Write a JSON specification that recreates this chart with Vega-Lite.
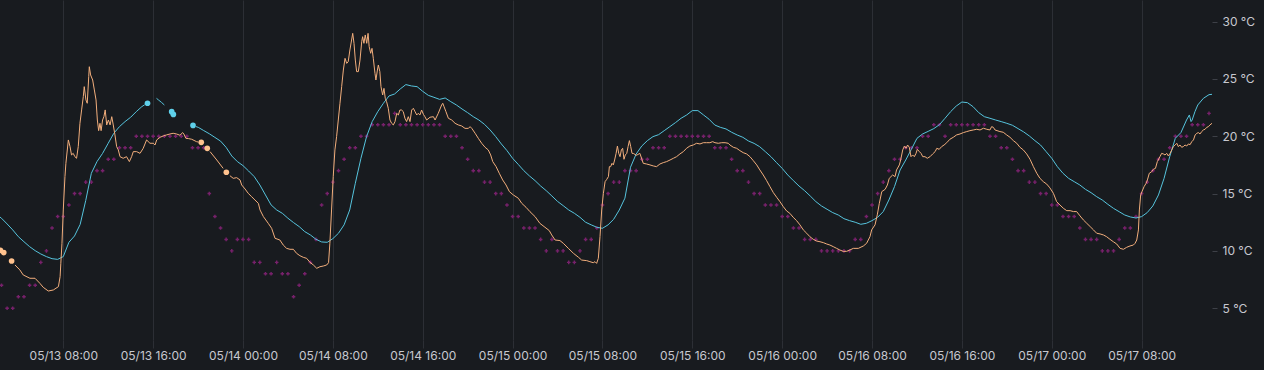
{
 "$schema": "https://vega.github.io/schema/vega-lite/v6.json",
 "width": 1212,
 "height": 340,
 "autosize": {"type": "none"},
 "padding": {"left": 0, "top": 0, "right": 52, "bottom": 30},
 "background": "#181b1f",
 "config": {"view": {"stroke": null}, "font": "Inter"},
 "datasets": {
  "outdoor": [
   {"t":"2024-05-13T02:30","v":7},{"t":"2024-05-13T03:00","v":5},{"t":"2024-05-13T03:30","v":5},{"t":"2024-05-13T04:00","v":6},{"t":"2024-05-13T04:30","v":6},{"t":"2024-05-13T05:00","v":7},{"t":"2024-05-13T05:30","v":7},{"t":"2024-05-13T06:00","v":9},{"t":"2024-05-13T06:30","v":10},{"t":"2024-05-13T07:00","v":12},{"t":"2024-05-13T07:30","v":13},{"t":"2024-05-13T08:00","v":13},{"t":"2024-05-13T08:30","v":14},{"t":"2024-05-13T09:00","v":15},{"t":"2024-05-13T09:30","v":15},{"t":"2024-05-13T10:00","v":16},{"t":"2024-05-13T10:30","v":16},{"t":"2024-05-13T11:00","v":17},{"t":"2024-05-13T11:30","v":17},{"t":"2024-05-13T12:00","v":18},{"t":"2024-05-13T12:30","v":18},{"t":"2024-05-13T13:00","v":19},{"t":"2024-05-13T13:30","v":19},{"t":"2024-05-13T14:00","v":19},{"t":"2024-05-13T14:30","v":20},{"t":"2024-05-13T15:00","v":20},{"t":"2024-05-13T15:30","v":20},{"t":"2024-05-13T16:00","v":20},{"t":"2024-05-13T16:30","v":20},{"t":"2024-05-13T17:00","v":20},{"t":"2024-05-13T17:30","v":20},{"t":"2024-05-13T18:00","v":20},{"t":"2024-05-13T18:30","v":20},{"t":"2024-05-13T19:00","v":20},{"t":"2024-05-13T19:30","v":19},{"t":"2024-05-13T20:00","v":19},{"t":"2024-05-13T20:30","v":19},{"t":"2024-05-13T21:00","v":15},{"t":"2024-05-13T21:30","v":13},{"t":"2024-05-13T22:00","v":12},{"t":"2024-05-13T22:30","v":11},{"t":"2024-05-13T23:00","v":10},{"t":"2024-05-13T23:30","v":11},
   {"t":"2024-05-14T00:00","v":11},{"t":"2024-05-14T00:30","v":11},{"t":"2024-05-14T01:00","v":9},{"t":"2024-05-14T01:30","v":9},{"t":"2024-05-14T02:00","v":8},{"t":"2024-05-14T02:30","v":8},{"t":"2024-05-14T03:00","v":9},{"t":"2024-05-14T03:30","v":8},{"t":"2024-05-14T04:00","v":8},{"t":"2024-05-14T04:30","v":6},{"t":"2024-05-14T05:00","v":7},{"t":"2024-05-14T05:30","v":8},{"t":"2024-05-14T06:00","v":9},{"t":"2024-05-14T06:30","v":11},{"t":"2024-05-14T07:00","v":14},{"t":"2024-05-14T07:30","v":15},{"t":"2024-05-14T08:00","v":16},{"t":"2024-05-14T08:30","v":17},{"t":"2024-05-14T09:00","v":18},{"t":"2024-05-14T09:30","v":19},{"t":"2024-05-14T10:00","v":19},{"t":"2024-05-14T10:30","v":20},{"t":"2024-05-14T11:00","v":20},{"t":"2024-05-14T11:30","v":21},{"t":"2024-05-14T12:00","v":21},{"t":"2024-05-14T12:30","v":21},{"t":"2024-05-14T13:00","v":21},{"t":"2024-05-14T13:30","v":22},{"t":"2024-05-14T14:00","v":21},{"t":"2024-05-14T14:30","v":21},{"t":"2024-05-14T15:00","v":21},{"t":"2024-05-14T15:30","v":21},{"t":"2024-05-14T16:00","v":21},{"t":"2024-05-14T16:30","v":21},{"t":"2024-05-14T17:00","v":21},{"t":"2024-05-14T17:30","v":21},{"t":"2024-05-14T18:00","v":20},{"t":"2024-05-14T18:30","v":20},{"t":"2024-05-14T19:00","v":20},{"t":"2024-05-14T19:30","v":19},{"t":"2024-05-14T20:00","v":18},{"t":"2024-05-14T20:30","v":17},{"t":"2024-05-14T21:00","v":17},{"t":"2024-05-14T21:30","v":16},{"t":"2024-05-14T22:00","v":16},{"t":"2024-05-14T22:30","v":15},{"t":"2024-05-14T23:00","v":15},{"t":"2024-05-14T23:30","v":14},
   {"t":"2024-05-15T00:00","v":13},{"t":"2024-05-15T00:30","v":13},{"t":"2024-05-15T01:00","v":12},{"t":"2024-05-15T01:30","v":12},{"t":"2024-05-15T02:00","v":12},{"t":"2024-05-15T02:30","v":11},{"t":"2024-05-15T03:00","v":10},{"t":"2024-05-15T03:30","v":11},{"t":"2024-05-15T04:00","v":10},{"t":"2024-05-15T04:30","v":10},{"t":"2024-05-15T05:00","v":9},{"t":"2024-05-15T05:30","v":9},{"t":"2024-05-15T06:00","v":10},{"t":"2024-05-15T06:30","v":11},{"t":"2024-05-15T07:00","v":11},{"t":"2024-05-15T07:30","v":12},{"t":"2024-05-15T08:00","v":14},{"t":"2024-05-15T08:30","v":15},{"t":"2024-05-15T09:00","v":16},{"t":"2024-05-15T09:30","v":16},{"t":"2024-05-15T10:00","v":17},{"t":"2024-05-15T10:30","v":17},{"t":"2024-05-15T11:00","v":17},{"t":"2024-05-15T11:30","v":18},{"t":"2024-05-15T12:00","v":18},{"t":"2024-05-15T12:30","v":19},{"t":"2024-05-15T13:00","v":19},{"t":"2024-05-15T13:30","v":19},{"t":"2024-05-15T14:00","v":20},{"t":"2024-05-15T14:30","v":20},{"t":"2024-05-15T15:00","v":20},{"t":"2024-05-15T15:30","v":20},{"t":"2024-05-15T16:00","v":20},{"t":"2024-05-15T16:30","v":20},{"t":"2024-05-15T17:00","v":20},{"t":"2024-05-15T17:30","v":20},{"t":"2024-05-15T18:00","v":19},{"t":"2024-05-15T18:30","v":19},{"t":"2024-05-15T19:00","v":19},{"t":"2024-05-15T19:30","v":18},{"t":"2024-05-15T20:00","v":17},{"t":"2024-05-15T20:30","v":17},{"t":"2024-05-15T21:00","v":16},{"t":"2024-05-15T21:30","v":15},{"t":"2024-05-15T22:00","v":15},{"t":"2024-05-15T22:30","v":14},{"t":"2024-05-15T23:00","v":14},{"t":"2024-05-15T23:30","v":14},
   {"t":"2024-05-16T00:00","v":13},{"t":"2024-05-16T00:30","v":13},{"t":"2024-05-16T01:00","v":12},{"t":"2024-05-16T01:30","v":12},{"t":"2024-05-16T02:00","v":11},{"t":"2024-05-16T02:30","v":11},{"t":"2024-05-16T03:00","v":11},{"t":"2024-05-16T03:30","v":10},{"t":"2024-05-16T04:00","v":10},{"t":"2024-05-16T04:30","v":10},{"t":"2024-05-16T05:00","v":10},{"t":"2024-05-16T05:30","v":10},{"t":"2024-05-16T06:00","v":10},{"t":"2024-05-16T06:30","v":11},{"t":"2024-05-16T07:00","v":11},{"t":"2024-05-16T07:30","v":13},{"t":"2024-05-16T08:00","v":14},{"t":"2024-05-16T08:30","v":15},{"t":"2024-05-16T09:00","v":16},{"t":"2024-05-16T09:30","v":17},{"t":"2024-05-16T10:00","v":18},{"t":"2024-05-16T10:30","v":18},{"t":"2024-05-16T11:00","v":19},{"t":"2024-05-16T11:30","v":19},{"t":"2024-05-16T12:00","v":19},{"t":"2024-05-16T12:30","v":20},{"t":"2024-05-16T13:00","v":20},{"t":"2024-05-16T13:30","v":21},{"t":"2024-05-16T14:00","v":21},{"t":"2024-05-16T14:30","v":20},{"t":"2024-05-16T15:00","v":21},{"t":"2024-05-16T15:30","v":21},{"t":"2024-05-16T16:00","v":21},{"t":"2024-05-16T16:30","v":21},{"t":"2024-05-16T17:00","v":21},{"t":"2024-05-16T17:30","v":21},{"t":"2024-05-16T18:00","v":21},{"t":"2024-05-16T18:30","v":20},{"t":"2024-05-16T19:00","v":20},{"t":"2024-05-16T19:30","v":19},{"t":"2024-05-16T20:00","v":19},{"t":"2024-05-16T20:30","v":18},{"t":"2024-05-16T21:00","v":17},{"t":"2024-05-16T21:30","v":17},{"t":"2024-05-16T22:00","v":16},{"t":"2024-05-16T22:30","v":16},{"t":"2024-05-16T23:00","v":15},{"t":"2024-05-16T23:30","v":15},
   {"t":"2024-05-17T00:00","v":14},{"t":"2024-05-17T00:30","v":14},{"t":"2024-05-17T01:00","v":13},{"t":"2024-05-17T01:30","v":13},{"t":"2024-05-17T02:00","v":13},{"t":"2024-05-17T02:30","v":12},{"t":"2024-05-17T03:00","v":11},{"t":"2024-05-17T03:30","v":11},{"t":"2024-05-17T04:00","v":11},{"t":"2024-05-17T04:30","v":10},{"t":"2024-05-17T05:00","v":10},{"t":"2024-05-17T05:30","v":10},{"t":"2024-05-17T06:00","v":11},{"t":"2024-05-17T06:30","v":12},{"t":"2024-05-17T07:00","v":12},{"t":"2024-05-17T07:30","v":13},{"t":"2024-05-17T08:00","v":15},{"t":"2024-05-17T08:30","v":16},{"t":"2024-05-17T09:00","v":17},{"t":"2024-05-17T09:30","v":18},{"t":"2024-05-17T10:00","v":18},{"t":"2024-05-17T10:30","v":19},{"t":"2024-05-17T11:00","v":20},{"t":"2024-05-17T11:30","v":20},{"t":"2024-05-17T12:00","v":20},{"t":"2024-05-17T12:30","v":21},{"t":"2024-05-17T13:00","v":21},{"t":"2024-05-17T13:30","v":21},{"t":"2024-05-17T14:00","v":22}
  ],
  "cyan": [
   {"t":"2024-05-13T02:22","v":12.95},{"t":"2024-05-13T02:30","v":12.85},{"t":"2024-05-13T03:00","v":12.35},{"t":"2024-05-13T03:30","v":11.83},{"t":"2024-05-13T04:00","v":11.24},{"t":"2024-05-13T04:30","v":10.8},{"t":"2024-05-13T05:00","v":10.37},{"t":"2024-05-13T05:30","v":10.02},{"t":"2024-05-13T06:00","v":9.73},{"t":"2024-05-13T06:30","v":9.5},{"t":"2024-05-13T07:00","v":9.32},{"t":"2024-05-13T07:30","v":9.26},{"t":"2024-05-13T08:00","v":9.5},{"t":"2024-05-13T08:30","v":10.75},{"t":"2024-05-13T09:00","v":11.3},{"t":"2024-05-13T09:30","v":12.3},{"t":"2024-05-13T10:00","v":14.4},{"t":"2024-05-13T10:30","v":16.77},{"t":"2024-05-13T11:00","v":17.79},{"t":"2024-05-13T11:30","v":18.51},{"t":"2024-05-13T12:00","v":19.39},{"t":"2024-05-13T12:30","v":20.26},{"t":"2024-05-13T13:00","v":20.84},{"t":"2024-05-13T13:30","v":21.28},{"t":"2024-05-13T14:00","v":21.66},{"t":"2024-05-13T14:30","v":22.15},{"t":"2024-05-13T15:00","v":22.59},{"t":"2024-05-13T15:15","v":22.75},{"t":"2024-05-13T15:23","v":null},{"t":"2024-05-13T15:30","v":22.88},{"t":"2024-05-13T15:54","v":null},{"t":"2024-05-13T16:18","v":23.31},{"t":"2024-05-13T16:30","v":23.15},{"t":"2024-05-13T16:45","v":22.95},{"t":"2024-05-13T17:00","v":22.73},{"t":"2024-05-13T17:18","v":null},{"t":"2024-05-13T17:39","v":22.15},{"t":"2024-05-13T17:43","v":null},{"t":"2024-05-13T17:48","v":21.91},{"t":"2024-05-13T18:30","v":null},{"t":"2024-05-13T19:33","v":20.95},{"t":"2024-05-13T19:39","v":null},{"t":"2024-05-13T19:48","v":20.85},{"t":"2024-05-13T20:01","v":20.78},{"t":"2024-05-13T20:30","v":20.5},{"t":"2024-05-13T21:00","v":20.22},{"t":"2024-05-13T21:30","v":19.9},{"t":"2024-05-13T22:00","v":19.58},{"t":"2024-05-13T22:30","v":19.03},{"t":"2024-05-13T23:00","v":18.28},{"t":"2024-05-13T23:30","v":17.79},
   {"t":"2024-05-14T00:00","v":17.44},{"t":"2024-05-14T00:30","v":16.97},{"t":"2024-05-14T01:00","v":16.48},{"t":"2024-05-14T01:30","v":15.75},{"t":"2024-05-14T02:00","v":14.88},{"t":"2024-05-14T02:30","v":14.01},{"t":"2024-05-14T03:00","v":13.57},{"t":"2024-05-14T03:30","v":13.28},{"t":"2024-05-14T04:00","v":12.85},{"t":"2024-05-14T04:30","v":12.47},{"t":"2024-05-14T05:00","v":12.12},{"t":"2024-05-14T05:30","v":11.68},{"t":"2024-05-14T06:00","v":11.39},{"t":"2024-05-14T06:30","v":11.01},{"t":"2024-05-14T07:00","v":10.78},{"t":"2024-05-14T07:30","v":10.75},{"t":"2024-05-14T08:00","v":11.07},{"t":"2024-05-14T08:30","v":11.54},{"t":"2024-05-14T09:00","v":12.27},{"t":"2024-05-14T09:30","v":13.57},{"t":"2024-05-14T10:00","v":15.9},{"t":"2024-05-14T10:30","v":18.08},{"t":"2024-05-14T11:00","v":19.97},{"t":"2024-05-14T11:30","v":21.28},{"t":"2024-05-14T12:00","v":22.15},{"t":"2024-05-14T12:30","v":22.88},{"t":"2024-05-14T13:00","v":23.52},{"t":"2024-05-14T13:30","v":23.69},{"t":"2024-05-14T14:00","v":24.13},{"t":"2024-05-14T14:30","v":24.51},{"t":"2024-05-14T15:00","v":24.39},{"t":"2024-05-14T15:30","v":24.33},{"t":"2024-05-14T16:00","v":23.92},{"t":"2024-05-14T16:30","v":23.57},{"t":"2024-05-14T17:00","v":23.4},{"t":"2024-05-14T17:30","v":23.22},{"t":"2024-05-14T18:00","v":23.34},{"t":"2024-05-14T18:30","v":23.02},{"t":"2024-05-14T19:00","v":22.73},{"t":"2024-05-14T19:30","v":22.38},{"t":"2024-05-14T20:00","v":22.06},{"t":"2024-05-14T20:30","v":21.71},{"t":"2024-05-14T21:00","v":21.42},{"t":"2024-05-14T21:30","v":21.04},{"t":"2024-05-14T22:00","v":20.55},{"t":"2024-05-14T22:30","v":19.97},{"t":"2024-05-14T23:00","v":19.33},{"t":"2024-05-14T23:30","v":18.75},
   {"t":"2024-05-15T00:00","v":18.08},{"t":"2024-05-15T00:30","v":17.55},{"t":"2024-05-15T01:00","v":17.0},{"t":"2024-05-15T01:30","v":16.54},{"t":"2024-05-15T02:00","v":16.13},{"t":"2024-05-15T02:30","v":15.66},{"t":"2024-05-15T03:00","v":15.25},{"t":"2024-05-15T03:30","v":14.79},{"t":"2024-05-15T04:00","v":14.32},{"t":"2024-05-15T04:30","v":13.95},{"t":"2024-05-15T05:00","v":13.57},{"t":"2024-05-15T05:30","v":13.28},{"t":"2024-05-15T06:00","v":12.93},{"t":"2024-05-15T06:30","v":12.5},{"t":"2024-05-15T07:00","v":12.27},{"t":"2024-05-15T07:30","v":12.06},{"t":"2024-05-15T08:00","v":11.97},{"t":"2024-05-15T08:30","v":12.27},{"t":"2024-05-15T09:00","v":12.76},{"t":"2024-05-15T09:30","v":13.57},{"t":"2024-05-15T10:00","v":14.6},{"t":"2024-05-15T10:30","v":17.3},{"t":"2024-05-15T11:00","v":18.45},{"t":"2024-05-15T11:30","v":19.15},{"t":"2024-05-15T12:00","v":19.62},{"t":"2024-05-15T12:30","v":19.97},{"t":"2024-05-15T13:00","v":20.14},{"t":"2024-05-15T13:30","v":20.49},{"t":"2024-05-15T14:00","v":20.84},{"t":"2024-05-15T14:30","v":21.19},{"t":"2024-05-15T15:00","v":21.57},{"t":"2024-05-15T15:30","v":21.86},{"t":"2024-05-15T16:00","v":22.24},{"t":"2024-05-15T16:30","v":22.24},{"t":"2024-05-15T17:00","v":21.86},{"t":"2024-05-15T17:30","v":21.48},{"t":"2024-05-15T18:00","v":20.98},{"t":"2024-05-15T18:30","v":20.78},{"t":"2024-05-15T19:00","v":20.64},{"t":"2024-05-15T19:30","v":20.35},{"t":"2024-05-15T20:00","v":20.11},{"t":"2024-05-15T20:30","v":19.91},{"t":"2024-05-15T21:00","v":19.59},{"t":"2024-05-15T21:30","v":19.38},{"t":"2024-05-15T22:00","v":19.09},{"t":"2024-05-15T22:30","v":18.66},{"t":"2024-05-15T23:00","v":18.22},{"t":"2024-05-15T23:30","v":17.7},
   {"t":"2024-05-16T00:00","v":17.2},{"t":"2024-05-16T00:30","v":16.62},{"t":"2024-05-16T01:00","v":16.13},{"t":"2024-05-16T01:30","v":15.66},{"t":"2024-05-16T02:00","v":15.25},{"t":"2024-05-16T02:30","v":14.79},{"t":"2024-05-16T03:00","v":14.3},{"t":"2024-05-16T03:30","v":13.92},{"t":"2024-05-16T04:00","v":13.63},{"t":"2024-05-16T04:30","v":13.34},{"t":"2024-05-16T05:00","v":13.13},{"t":"2024-05-16T05:30","v":12.81},{"t":"2024-05-16T06:00","v":12.64},{"t":"2024-05-16T06:30","v":12.5},{"t":"2024-05-16T07:00","v":12.32},{"t":"2024-05-16T07:30","v":12.41},{"t":"2024-05-16T08:00","v":12.64},{"t":"2024-05-16T08:30","v":12.93},{"t":"2024-05-16T09:00","v":13.43},{"t":"2024-05-16T09:30","v":14.44},{"t":"2024-05-16T10:00","v":15.61},{"t":"2024-05-16T10:30","v":17.06},{"t":"2024-05-16T11:00","v":17.93},{"t":"2024-05-16T11:30","v":18.86},{"t":"2024-05-16T12:00","v":19.82},{"t":"2024-05-16T12:30","v":20.2},{"t":"2024-05-16T13:00","v":20.43},{"t":"2024-05-16T13:30","v":20.67},{"t":"2024-05-16T14:00","v":21.01},{"t":"2024-05-16T14:30","v":21.57},{"t":"2024-05-16T15:00","v":22.15},{"t":"2024-05-16T15:30","v":22.64},{"t":"2024-05-16T16:00","v":22.99},{"t":"2024-05-16T16:30","v":22.93},{"t":"2024-05-16T17:00","v":22.58},{"t":"2024-05-16T17:30","v":22.06},{"t":"2024-05-16T18:00","v":21.71},{"t":"2024-05-16T18:30","v":21.57},{"t":"2024-05-16T19:00","v":21.42},{"t":"2024-05-16T19:30","v":21.28},{"t":"2024-05-16T20:00","v":21.13},{"t":"2024-05-16T20:30","v":20.96},{"t":"2024-05-16T21:00","v":20.67},{"t":"2024-05-16T21:30","v":20.38},{"t":"2024-05-16T22:00","v":20.03},{"t":"2024-05-16T22:30","v":19.62},{"t":"2024-05-16T23:00","v":19.24},{"t":"2024-05-16T23:30","v":18.66},
   {"t":"2024-05-17T00:00","v":18.08},{"t":"2024-05-17T00:30","v":17.35},{"t":"2024-05-17T01:00","v":16.77},{"t":"2024-05-17T01:30","v":16.33},{"t":"2024-05-17T02:00","v":16.04},{"t":"2024-05-17T02:30","v":15.75},{"t":"2024-05-17T03:00","v":15.37},{"t":"2024-05-17T03:30","v":15.08},{"t":"2024-05-17T04:00","v":14.73},{"t":"2024-05-17T04:30","v":14.44},{"t":"2024-05-17T05:00","v":14.06},{"t":"2024-05-17T05:30","v":13.71},{"t":"2024-05-17T06:00","v":13.42},{"t":"2024-05-17T06:30","v":13.13},{"t":"2024-05-17T07:00","v":12.96},{"t":"2024-05-17T07:30","v":12.87},{"t":"2024-05-17T08:00","v":12.99},{"t":"2024-05-17T08:30","v":13.34},{"t":"2024-05-17T09:00","v":13.92},{"t":"2024-05-17T09:30","v":14.88},{"t":"2024-05-17T10:00","v":16.33},{"t":"2024-05-17T10:30","v":18.22},{"t":"2024-05-17T11:00","v":19.82},{"t":"2024-05-17T11:30","v":20.32},{"t":"2024-05-17T12:00","v":21.42},{"t":"2024-05-17T12:15","v":21.86},{"t":"2024-05-17T12:24","v":21.28},{"t":"2024-05-17T12:30","v":21.42},{"t":"2024-05-17T12:45","v":22.15},{"t":"2024-05-17T13:00","v":22.73},{"t":"2024-05-17T13:30","v":23.31},{"t":"2024-05-17T14:00","v":23.63},{"t":"2024-05-17T14:16","v":23.66}
  ],
  "orange": [
   {"t":"2024-05-13T02:24","v":10.05},{"t":"2024-05-13T02:33","v":null},{"t":"2024-05-13T02:42","v":9.85},{"t":"2024-05-13T03:03","v":null},{"t":"2024-05-13T03:24","v":9.12},{"t":"2024-05-13T03:33","v":null},{"t":"2024-05-13T03:42","v":8.77},{"t":"2024-05-13T04:08","v":8.34},{"t":"2024-05-13T04:26","v":7.9},{"t":"2024-05-13T05:02","v":7.61},{"t":"2024-05-13T05:29","v":7.61},{"t":"2024-05-13T05:55","v":7.17},{"t":"2024-05-13T06:13","v":6.82},{"t":"2024-05-13T06:40","v":6.5},{"t":"2024-05-13T07:07","v":6.59},{"t":"2024-05-13T07:34","v":6.88},{"t":"2024-05-13T07:43","v":7.75},{"t":"2024-05-13T07:47","v":8.92},{"t":"2024-05-13T07:53","v":10.66},{"t":"2024-05-13T08:00","v":13.57},{"t":"2024-05-13T08:09","v":16.48},{"t":"2024-05-13T08:14","v":17.64},{"t":"2024-05-13T08:27","v":19.68},{"t":"2024-05-13T08:36","v":19.1},{"t":"2024-05-13T08:44","v":18.37},{"t":"2024-05-13T08:53","v":18.51},{"t":"2024-05-13T09:02","v":18.22},{"t":"2024-05-13T09:11","v":18.08},{"t":"2024-05-13T09:20","v":19.1},{"t":"2024-05-13T09:29","v":21.13},{"t":"2024-05-13T09:38","v":22.3},{"t":"2024-05-13T09:47","v":23.46},{"t":"2024-05-13T09:52","v":24.33},{"t":"2024-05-13T10:01","v":23.17},{"t":"2024-05-13T10:08","v":22.88},{"t":"2024-05-13T10:16","v":25.2},{"t":"2024-05-13T10:19","v":26.07},{"t":"2024-05-13T10:26","v":25.35},{"t":"2024-05-13T10:37","v":24.91},{"t":"2024-05-13T10:46","v":24.04},{"t":"2024-05-13T10:55","v":23.17},{"t":"2024-05-13T11:02","v":21.42},{"t":"2024-05-13T11:09","v":20.49},{"t":"2024-05-13T11:16","v":21.13},{"t":"2024-05-13T11:22","v":20.49},{"t":"2024-05-13T11:30","v":21.42},{"t":"2024-05-13T11:37","v":21.71},{"t":"2024-05-13T11:44","v":22.3},{"t":"2024-05-13T11:52","v":20.99},{"t":"2024-05-13T12:01","v":21.42},{"t":"2024-05-13T12:10","v":20.99},{"t":"2024-05-13T12:19","v":21.71},{"t":"2024-05-13T12:27","v":20.99},{"t":"2024-05-13T12:36","v":20.12},{"t":"2024-05-13T12:45","v":19.1},{"t":"2024-05-13T12:54","v":18.81},{"t":"2024-05-13T13:03","v":18.22},{"t":"2024-05-13T13:20","v":18.08},{"t":"2024-05-13T13:38","v":18.22},{"t":"2024-05-13T13:53","v":17.79},{"t":"2024-05-13T14:05","v":18.22},{"t":"2024-05-13T14:14","v":18.66},{"t":"2024-05-13T14:32","v":18.66},{"t":"2024-05-13T14:50","v":18.51},{"t":"2024-05-13T15:07","v":18.95},{"t":"2024-05-13T15:25","v":19.68},{"t":"2024-05-13T15:43","v":19.39},{"t":"2024-05-13T16:01","v":19.39},{"t":"2024-05-13T16:10","v":19.24},{"t":"2024-05-13T16:19","v":19.68},{"t":"2024-05-13T16:37","v":19.91},{"t":"2024-05-13T16:54","v":20.03},{"t":"2024-05-13T17:12","v":20.12},{"t":"2024-05-13T17:30","v":20.2},{"t":"2024-05-13T17:47","v":20.26},{"t":"2024-05-13T18:05","v":20.2},{"t":"2024-05-13T18:23","v":20.09},{"t":"2024-05-13T18:38","v":20.32},{"t":"2024-05-13T18:44","v":20.2},{"t":"2024-05-13T18:55","v":19.82},{"t":"2024-05-13T19:08","v":19.8},{"t":"2024-05-13T19:26","v":19.74},{"t":"2024-05-13T19:52","v":19.53},{"t":"2024-05-13T20:00","v":19.5},{"t":"2024-05-13T20:09","v":null},{"t":"2024-05-13T20:17","v":19.47},{"t":"2024-05-13T20:33","v":null},{"t":"2024-05-13T20:49","v":18.95},{"t":"2024-05-13T20:57","v":null},{"t":"2024-05-13T21:04","v":18.66},{"t":"2024-05-13T21:40","v":17.93},{"t":"2024-05-13T22:14","v":17.2},{"t":"2024-05-13T22:23","v":null},{"t":"2024-05-13T22:31","v":16.86},{"t":"2024-05-13T22:39","v":null},{"t":"2024-05-13T22:50","v":16.56},{"t":"2024-05-13T23:08","v":16.33},{"t":"2024-05-13T23:26","v":16.39},{"t":"2024-05-13T23:44","v":16.19},{"t":"2024-05-13T23:53","v":15.75},
   {"t":"2024-05-14T00:11","v":15.4},{"t":"2024-05-14T00:28","v":15.02},{"t":"2024-05-14T00:46","v":14.73},{"t":"2024-05-14T01:04","v":14.44},{"t":"2024-05-14T01:22","v":14.15},{"t":"2024-05-14T01:31","v":13.57},{"t":"2024-05-14T01:49","v":12.99},{"t":"2024-05-14T02:15","v":12.4},{"t":"2024-05-14T02:33","v":11.97},{"t":"2024-05-14T02:51","v":11.1},{"t":"2024-05-14T03:17","v":10.95},{"t":"2024-05-14T03:35","v":10.51},{"t":"2024-05-14T03:53","v":10.22},{"t":"2024-05-14T04:11","v":10.14},{"t":"2024-05-14T04:29","v":10.14},{"t":"2024-05-14T04:46","v":9.79},{"t":"2024-05-14T05:04","v":9.58},{"t":"2024-05-14T05:22","v":9.44},{"t":"2024-05-14T05:40","v":9.35},{"t":"2024-05-14T05:58","v":9.0},{"t":"2024-05-14T06:16","v":8.77},{"t":"2024-05-14T06:34","v":8.48},{"t":"2024-05-14T06:51","v":8.62},{"t":"2024-05-14T07:09","v":8.68},{"t":"2024-05-14T07:27","v":8.77},{"t":"2024-05-14T07:37","v":8.97},{"t":"2024-05-14T07:44","v":10.66},{"t":"2024-05-14T07:53","v":13.57},{"t":"2024-05-14T08:02","v":16.48},{"t":"2024-05-14T08:11","v":18.81},{"t":"2024-05-14T08:20","v":19.97},{"t":"2024-05-14T08:29","v":21.42},{"t":"2024-05-14T08:38","v":22.88},{"t":"2024-05-14T08:47","v":24.33},{"t":"2024-05-14T08:56","v":25.78},{"t":"2024-05-14T09:05","v":26.8},{"t":"2024-05-14T09:14","v":26.36},{"t":"2024-05-14T09:22","v":26.51},{"t":"2024-05-14T09:31","v":27.53},{"t":"2024-05-14T09:40","v":28.4},{"t":"2024-05-14T09:46","v":28.98},{"t":"2024-05-14T09:53","v":28.11},{"t":"2024-05-14T10:00","v":26.65},{"t":"2024-05-14T10:07","v":25.64},{"t":"2024-05-14T10:16","v":25.64},{"t":"2024-05-14T10:25","v":26.65},{"t":"2024-05-14T10:34","v":28.25},{"t":"2024-05-14T10:39","v":28.69},{"t":"2024-05-14T10:46","v":28.11},{"t":"2024-05-14T10:53","v":28.84},{"t":"2024-05-14T11:01","v":28.11},{"t":"2024-05-14T11:08","v":28.98},{"t":"2024-05-14T11:14","v":27.82},{"t":"2024-05-14T11:22","v":27.24},{"t":"2024-05-14T11:29","v":27.67},{"t":"2024-05-14T11:36","v":26.8},{"t":"2024-05-14T11:45","v":25.49},{"t":"2024-05-14T11:50","v":24.91},{"t":"2024-05-14T11:58","v":25.78},{"t":"2024-05-14T12:03","v":26.22},{"t":"2024-05-14T12:11","v":25.64},{"t":"2024-05-14T12:17","v":24.33},{"t":"2024-05-14T12:26","v":23.6},{"t":"2024-05-14T12:33","v":24.18},{"t":"2024-05-14T12:40","v":23.31},{"t":"2024-05-14T12:47","v":23.02},{"t":"2024-05-14T12:56","v":22.44},{"t":"2024-05-14T13:05","v":21.42},{"t":"2024-05-14T13:14","v":21.13},{"t":"2024-05-14T13:23","v":20.99},{"t":"2024-05-14T13:32","v":21.28},{"t":"2024-05-14T13:41","v":22.0},{"t":"2024-05-14T13:50","v":21.86},{"t":"2024-05-14T13:58","v":22.29},{"t":"2024-05-14T14:07","v":22.29},{"t":"2024-05-14T14:16","v":22.15},{"t":"2024-05-14T14:25","v":21.57},{"t":"2024-05-14T14:34","v":21.28},{"t":"2024-05-14T14:43","v":21.71},{"t":"2024-05-14T14:52","v":21.28},{"t":"2024-05-14T15:01","v":22.29},{"t":"2024-05-14T15:10","v":22.44},{"t":"2024-05-14T15:19","v":22.15},{"t":"2024-05-14T15:28","v":21.86},{"t":"2024-05-14T15:36","v":22.0},{"t":"2024-05-14T15:45","v":21.86},{"t":"2024-05-14T15:54","v":22.29},{"t":"2024-05-14T16:04","v":21.9},{"t":"2024-05-14T16:12","v":21.7},{"t":"2024-05-14T16:21","v":21.42},{"t":"2024-05-14T16:39","v":21.66},{"t":"2024-05-14T16:57","v":21.71},{"t":"2024-05-14T17:06","v":21.42},{"t":"2024-05-14T17:23","v":22.0},{"t":"2024-05-14T17:41","v":22.73},{"t":"2024-05-14T17:47","v":22.88},{"t":"2024-05-14T17:54","v":22.58},{"t":"2024-05-14T18:04","v":22.15},{"t":"2024-05-14T18:17","v":21.57},{"t":"2024-05-14T18:35","v":21.42},{"t":"2024-05-14T18:53","v":21.13},{"t":"2024-05-14T19:10","v":20.99},{"t":"2024-05-14T19:28","v":20.9},{"t":"2024-05-14T19:46","v":20.69},{"t":"2024-05-14T20:04","v":20.69},{"t":"2024-05-14T20:13","v":20.84},{"t":"2024-05-14T20:22","v":20.69},{"t":"2024-05-14T20:40","v":20.26},{"t":"2024-05-14T20:57","v":19.82},{"t":"2024-05-14T21:15","v":19.39},{"t":"2024-05-14T21:33","v":19.04},{"t":"2024-05-14T21:50","v":18.81},{"t":"2024-05-14T22:03","v":18.37},{"t":"2024-05-14T22:14","v":17.79},{"t":"2024-05-14T22:32","v":17.35},{"t":"2024-05-14T22:49","v":16.77},{"t":"2024-05-14T23:07","v":16.19},{"t":"2024-05-14T23:25","v":15.75},{"t":"2024-05-14T23:43","v":15.17},
   {"t":"2024-05-15T00:04","v":14.88},{"t":"2024-05-15T00:31","v":14.59},{"t":"2024-05-15T00:49","v":14.15},{"t":"2024-05-15T01:12","v":13.8},{"t":"2024-05-15T01:33","v":13.42},{"t":"2024-05-15T02:00","v":12.99},{"t":"2024-05-15T02:26","v":12.4},{"t":"2024-05-15T02:53","v":12.06},{"t":"2024-05-15T03:16","v":11.77},{"t":"2024-05-15T03:29","v":11.39},{"t":"2024-05-15T03:47","v":10.95},{"t":"2024-05-15T04:13","v":10.9},{"t":"2024-05-15T04:31","v":10.66},{"t":"2024-05-15T04:58","v":10.22},{"t":"2024-05-15T05:25","v":9.79},{"t":"2024-05-15T05:52","v":9.44},{"t":"2024-05-15T06:09","v":9.2},{"t":"2024-05-15T06:36","v":9.15},{"t":"2024-05-15T06:53","v":9.06},{"t":"2024-05-15T07:11","v":8.97},{"t":"2024-05-15T07:20","v":9.06},{"t":"2024-05-15T07:29","v":8.91},{"t":"2024-05-15T07:38","v":9.35},{"t":"2024-05-15T07:47","v":11.24},{"t":"2024-05-15T07:56","v":13.57},{"t":"2024-05-15T08:05","v":15.02},{"t":"2024-05-15T08:14","v":16.04},{"t":"2024-05-15T08:23","v":16.24},{"t":"2024-05-15T08:32","v":16.48},{"t":"2024-05-15T08:37","v":17.35},{"t":"2024-05-15T08:44","v":17.35},{"t":"2024-05-15T08:51","v":17.64},{"t":"2024-05-15T08:58","v":17.5},{"t":"2024-05-15T09:05","v":17.93},{"t":"2024-05-15T09:13","v":18.51},{"t":"2024-05-15T09:20","v":19.15},{"t":"2024-05-15T09:27","v":18.51},{"t":"2024-05-15T09:34","v":18.22},{"t":"2024-05-15T09:41","v":18.81},{"t":"2024-05-15T09:48","v":18.95},{"t":"2024-05-15T09:55","v":17.99},{"t":"2024-05-15T10:02","v":18.37},{"t":"2024-05-15T10:10","v":18.51},{"t":"2024-05-15T10:17","v":19.1},{"t":"2024-05-15T10:24","v":19.62},{"t":"2024-05-15T10:31","v":19.1},{"t":"2024-05-15T10:38","v":18.51},{"t":"2024-05-15T10:45","v":18.5},{"t":"2024-05-15T11:02","v":18.34},{"t":"2024-05-15T11:20","v":18.51},{"t":"2024-05-15T11:38","v":17.64},{"t":"2024-05-15T11:56","v":17.58},{"t":"2024-05-15T12:14","v":17.5},{"t":"2024-05-15T12:32","v":17.41},{"t":"2024-05-15T12:49","v":17.35},{"t":"2024-05-15T13:07","v":17.58},{"t":"2024-05-15T13:25","v":17.7},{"t":"2024-05-15T13:43","v":17.79},{"t":"2024-05-15T14:01","v":17.93},{"t":"2024-05-15T14:19","v":18.08},{"t":"2024-05-15T14:36","v":18.22},{"t":"2024-05-15T14:54","v":18.46},{"t":"2024-05-15T15:12","v":18.66},{"t":"2024-05-15T15:29","v":18.95},{"t":"2024-05-15T15:47","v":19.15},{"t":"2024-05-15T16:05","v":19.24},{"t":"2024-05-15T16:23","v":19.39},{"t":"2024-05-15T16:41","v":19.33},{"t":"2024-05-15T16:59","v":19.44},{"t":"2024-05-15T17:16","v":19.44},{"t":"2024-05-15T17:34","v":19.44},{"t":"2024-05-15T17:49","v":19.53},{"t":"2024-05-15T18:01","v":19.44},{"t":"2024-05-15T18:19","v":19.39},{"t":"2024-05-15T18:37","v":19.44},{"t":"2024-05-15T18:55","v":19.44},{"t":"2024-05-15T19:12","v":19.39},{"t":"2024-05-15T19:21","v":19.24},{"t":"2024-05-15T19:39","v":19.04},{"t":"2024-05-15T19:57","v":18.95},{"t":"2024-05-15T20:14","v":18.75},{"t":"2024-05-15T20:32","v":18.57},{"t":"2024-05-15T20:50","v":18.46},{"t":"2024-05-15T21:08","v":18.22},{"t":"2024-05-15T21:26","v":17.87},{"t":"2024-05-15T21:44","v":17.5},{"t":"2024-05-15T22:01","v":17.06},{"t":"2024-05-15T22:19","v":16.62},{"t":"2024-05-15T22:37","v":16.13},{"t":"2024-05-15T22:55","v":15.6},{"t":"2024-05-15T23:13","v":15.08},{"t":"2024-05-15T23:31","v":14.67},{"t":"2024-05-15T23:48","v":14.3},
   {"t":"2024-05-16T00:06","v":13.86},{"t":"2024-05-16T00:24","v":13.48},{"t":"2024-05-16T00:41","v":13.28},{"t":"2024-05-16T00:59","v":12.93},{"t":"2024-05-16T01:17","v":12.64},{"t":"2024-05-16T01:35","v":12.27},{"t":"2024-05-16T01:53","v":11.83},{"t":"2024-05-16T02:11","v":11.54},{"t":"2024-05-16T02:28","v":11.24},{"t":"2024-05-16T02:46","v":11.01},{"t":"2024-05-16T03:04","v":10.86},{"t":"2024-05-16T03:22","v":10.8},{"t":"2024-05-16T03:40","v":10.72},{"t":"2024-05-16T03:58","v":10.6},{"t":"2024-05-16T04:15","v":10.51},{"t":"2024-05-16T04:33","v":10.37},{"t":"2024-05-16T04:51","v":10.22},{"t":"2024-05-16T05:08","v":10.08},{"t":"2024-05-16T05:26","v":9.96},{"t":"2024-05-16T05:44","v":9.96},{"t":"2024-05-16T06:02","v":10.08},{"t":"2024-05-16T06:20","v":10.22},{"t":"2024-05-16T06:47","v":10.22},{"t":"2024-05-16T07:14","v":10.43},{"t":"2024-05-16T07:31","v":10.66},{"t":"2024-05-16T07:49","v":11.24},{"t":"2024-05-16T07:58","v":11.83},{"t":"2024-05-16T08:16","v":12.27},{"t":"2024-05-16T08:28","v":13.14},{"t":"2024-05-16T08:39","v":14.15},{"t":"2024-05-16T08:52","v":15.17},{"t":"2024-05-16T09:10","v":15.37},{"t":"2024-05-16T09:22","v":15.75},{"t":"2024-05-16T09:32","v":16.33},{"t":"2024-05-16T09:50","v":16.62},{"t":"2024-05-16T10:03","v":16.48},{"t":"2024-05-16T10:11","v":17.06},{"t":"2024-05-16T10:26","v":17.5},{"t":"2024-05-16T10:33","v":17.93},{"t":"2024-05-16T10:44","v":18.81},{"t":"2024-05-16T10:53","v":19.15},{"t":"2024-05-16T11:02","v":18.95},{"t":"2024-05-16T11:10","v":19.24},{"t":"2024-05-16T11:19","v":19.04},{"t":"2024-05-16T11:28","v":18.22},{"t":"2024-05-16T11:37","v":18.37},{"t":"2024-05-16T11:46","v":18.22},{"t":"2024-05-16T11:55","v":18.51},{"t":"2024-05-16T12:02","v":18.86},{"t":"2024-05-16T12:13","v":18.66},{"t":"2024-05-16T12:22","v":18.51},{"t":"2024-05-16T12:31","v":18.22},{"t":"2024-05-16T12:43","v":18.22},{"t":"2024-05-16T12:55","v":18.08},{"t":"2024-05-16T13:10","v":18.22},{"t":"2024-05-16T13:24","v":18.46},{"t":"2024-05-16T13:37","v":18.66},{"t":"2024-05-16T13:46","v":18.95},{"t":"2024-05-16T13:59","v":18.86},{"t":"2024-05-16T14:12","v":19.1},{"t":"2024-05-16T14:25","v":19.24},{"t":"2024-05-16T14:39","v":19.44},{"t":"2024-05-16T14:56","v":19.74},{"t":"2024-05-16T15:14","v":19.91},{"t":"2024-05-16T15:32","v":20.12},{"t":"2024-05-16T15:50","v":20.2},{"t":"2024-05-16T16:08","v":20.32},{"t":"2024-05-16T16:26","v":20.41},{"t":"2024-05-16T16:43","v":20.49},{"t":"2024-05-16T17:01","v":20.55},{"t":"2024-05-16T17:19","v":20.61},{"t":"2024-05-16T17:37","v":20.55},{"t":"2024-05-16T17:55","v":20.7},{"t":"2024-05-16T18:13","v":20.61},{"t":"2024-05-16T18:30","v":20.55},{"t":"2024-05-16T18:39","v":20.84},{"t":"2024-05-16T18:48","v":20.78},{"t":"2024-05-16T18:57","v":20.55},{"t":"2024-05-16T19:23","v":20.41},{"t":"2024-05-16T19:41","v":20.35},{"t":"2024-05-16T19:59","v":20.12},{"t":"2024-05-16T20:17","v":19.91},{"t":"2024-05-16T20:35","v":19.62},{"t":"2024-05-16T20:53","v":19.39},{"t":"2024-05-16T21:10","v":19.04},{"t":"2024-05-16T21:28","v":18.81},{"t":"2024-05-16T21:46","v":18.46},{"t":"2024-05-16T22:04","v":17.99},{"t":"2024-05-16T22:22","v":17.35},{"t":"2024-05-16T22:40","v":16.77},{"t":"2024-05-16T22:57","v":16.33},{"t":"2024-05-16T23:15","v":16.04},{"t":"2024-05-16T23:33","v":15.83},{"t":"2024-05-16T23:50","v":15.5},
   {"t":"2024-05-17T00:09","v":15.02},{"t":"2024-05-17T00:26","v":14.3},{"t":"2024-05-17T00:44","v":14.0},{"t":"2024-05-17T01:02","v":13.72},{"t":"2024-05-17T01:20","v":13.51},{"t":"2024-05-17T01:38","v":13.51},{"t":"2024-05-17T01:56","v":13.43},{"t":"2024-05-17T02:13","v":13.43},{"t":"2024-05-17T02:31","v":13.05},{"t":"2024-05-17T02:49","v":12.7},{"t":"2024-05-17T03:07","v":12.41},{"t":"2024-05-17T03:25","v":12.12},{"t":"2024-05-17T03:43","v":11.83},{"t":"2024-05-17T04:00","v":11.54},{"t":"2024-05-17T04:18","v":11.48},{"t":"2024-05-17T04:36","v":11.39},{"t":"2024-05-17T04:53","v":11.24},{"t":"2024-05-17T05:11","v":11.01},{"t":"2024-05-17T05:29","v":10.8},{"t":"2024-05-17T05:47","v":10.6},{"t":"2024-05-17T06:05","v":10.22},{"t":"2024-05-17T06:23","v":10.14},{"t":"2024-05-17T06:40","v":10.31},{"t":"2024-05-17T06:58","v":10.43},{"t":"2024-05-17T07:16","v":10.51},{"t":"2024-05-17T07:25","v":10.66},{"t":"2024-05-17T07:34","v":10.95},{"t":"2024-05-17T07:43","v":11.83},{"t":"2024-05-17T07:48","v":13.57},{"t":"2024-05-17T07:55","v":14.88},{"t":"2024-05-17T08:02","v":15.17},{"t":"2024-05-17T08:13","v":15.6},{"t":"2024-05-17T08:24","v":15.9},{"t":"2024-05-17T08:31","v":16.19},{"t":"2024-05-17T08:41","v":16.77},{"t":"2024-05-17T08:54","v":16.91},{"t":"2024-05-17T09:03","v":17.12},{"t":"2024-05-17T09:14","v":17.2},{"t":"2024-05-17T09:24","v":17.79},{"t":"2024-05-17T09:38","v":18.22},{"t":"2024-05-17T09:47","v":18.51},{"t":"2024-05-17T09:56","v":18.46},{"t":"2024-05-17T10:05","v":18.37},{"t":"2024-05-17T10:14","v":18.51},{"t":"2024-05-17T10:23","v":18.28},{"t":"2024-05-17T10:32","v":18.51},{"t":"2024-05-17T10:41","v":18.81},{"t":"2024-05-17T10:50","v":19.1},{"t":"2024-05-17T10:59","v":19.24},{"t":"2024-05-17T11:08","v":19.39},{"t":"2024-05-17T11:16","v":19.1},{"t":"2024-05-17T11:25","v":19.24},{"t":"2024-05-17T11:34","v":19.04},{"t":"2024-05-17T11:43","v":19.1},{"t":"2024-05-17T11:52","v":19.24},{"t":"2024-05-17T12:01","v":19.15},{"t":"2024-05-17T12:10","v":19.33},{"t":"2024-05-17T12:19","v":19.27},{"t":"2024-05-17T12:28","v":19.53},{"t":"2024-05-17T12:37","v":19.68},{"t":"2024-05-17T12:46","v":20.12},{"t":"2024-05-17T12:55","v":20.26},{"t":"2024-05-17T13:03","v":20.32},{"t":"2024-05-17T13:12","v":20.2},{"t":"2024-05-17T13:21","v":20.41},{"t":"2024-05-17T13:30","v":20.55},{"t":"2024-05-17T13:39","v":20.61},{"t":"2024-05-17T13:48","v":20.78},{"t":"2024-05-17T13:57","v":20.84},{"t":"2024-05-17T14:05","v":20.99},{"t":"2024-05-17T14:16","v":21.13}
  ]
 },
 "layer": [
  {"data": {"name": "outdoor"},
   "mark": {"type": "point", "shape": "cross", "filled": true, "size": 13, "color": "#77216b", "opacity": 1},
   "encoding": {
    "x": {
     "field": "t", "type": "temporal",
     "scale": {"domain": [{"year": 2024, "month": 5, "date": 13, "hours": 2, "minutes": 22}, {"year": 2024, "month": 5, "date": 17, "hours": 14, "minutes": 16}]},
     "axis": {"title": null, "format": "%m/%d %H:%M",
      "values": [{"year": 2024, "month": 5, "date": 13, "hours": 8}, {"year": 2024, "month": 5, "date": 13, "hours": 16}, {"year": 2024, "month": 5, "date": 14, "hours": 0}, {"year": 2024, "month": 5, "date": 14, "hours": 8}, {"year": 2024, "month": 5, "date": 14, "hours": 16}, {"year": 2024, "month": 5, "date": 15, "hours": 0}, {"year": 2024, "month": 5, "date": 15, "hours": 8}, {"year": 2024, "month": 5, "date": 15, "hours": 16}, {"year": 2024, "month": 5, "date": 16, "hours": 0}, {"year": 2024, "month": 5, "date": 16, "hours": 8}, {"year": 2024, "month": 5, "date": 16, "hours": 16}, {"year": 2024, "month": 5, "date": 17, "hours": 0}, {"year": 2024, "month": 5, "date": 17, "hours": 8}],
      "grid": true, "gridColor": "#2c2f35", "gridWidth": 1, "domain": false, "tickColor": "#2c2f35", "tickSize": 8, "labelColor": "#c7c8cf", "labelFont": "Inter", "labelFontSize": 12, "labelPadding": 2, "labelFlush": false, "labelOverlap": false}
    },
    "y": {
     "field": "v", "type": "quantitative",
     "scale": {"domain": [2.225, 31.89], "nice": false, "zero": false},
     "axis": {"orient": "right", "title": null, "values": [5, 10, 15, 20, 25, 30], "labelExpr": "datum.value + ' °C'", "grid": false, "domain": false, "tickSize": 5, "tickColor": "#3d4047", "labelPadding": 5, "labelColor": "#c7c8cf", "labelFont": "Inter", "labelFontSize": 12}
    }
   }},
  {"data": {"name": "cyan"}, "mark": {"type": "line", "color": "#56c4dd", "strokeWidth": 1},
   "encoding": {"x": {"field": "t", "type": "temporal"}, "y": {"field": "v", "type": "quantitative"}}},
  {"data": {"name": "cyan"},
   "transform": [{"window": [{"op": "lag", "param": 1, "field": "v", "as": "prev"}, {"op": "lead", "param": 1, "field": "v", "as": "next"}]}, {"filter": "datum.v != null && datum.prev == null && datum.next == null"}],
   "mark": {"type": "circle", "size": 32, "color": "#5fd0ea", "opacity": 1},
   "encoding": {"x": {"field": "t", "type": "temporal"}, "y": {"field": "v", "type": "quantitative"}}},
  {"data": {"name": "orange"}, "mark": {"type": "line", "color": "#f2ae7c", "strokeWidth": 1},
   "encoding": {"x": {"field": "t", "type": "temporal"}, "y": {"field": "v", "type": "quantitative"}}},
  {"data": {"name": "orange"},
   "transform": [{"window": [{"op": "lag", "param": 1, "field": "v", "as": "prev"}, {"op": "lead", "param": 1, "field": "v", "as": "next"}]}, {"filter": "datum.v != null && datum.prev == null && datum.next == null"}],
   "mark": {"type": "circle", "size": 32, "color": "#ffc28e", "opacity": 1},
   "encoding": {"x": {"field": "t", "type": "temporal"}, "y": {"field": "v", "type": "quantitative"}}}
 ]
}
